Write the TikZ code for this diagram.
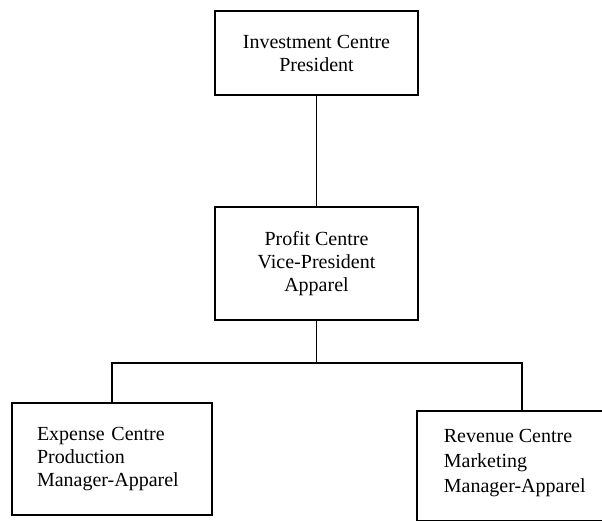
\documentclass[tikz,border=0pt]{standalone}
\usepackage{fontspec}
\setmainfont{Liberation Serif}
\begin{document}
\begin{tikzpicture}[x=1pt,y=-1pt,
  line width=1.8pt,
  unit/.style={draw, rectangle, inner sep=0pt, font=\fontsize{20}{23}\selectfont},
  centred/.style={unit, align=center},
  leftset/.style={unit, align=left, text width=#1}
]
\useasboundingbox (0,0) rectangle (602,521);
\clip (0,0) rectangle (602,521);

% investment centre at the top
\node[centred, minimum width=203pt, minimum height=84pt] (inv) at (316.5,53)
  {Investment Centre\\President};

% profit centre in the middle
\node[centred, minimum width=203pt, minimum height=113pt] (pro) at (316.5,263.5)
  {Profit Centre\\Vice-President\\Apparel};

% expense centre, lower left
\node[leftset=150pt, minimum width=200pt, minimum height=112pt] (exp) at (112,459)
  {Expense Centre\\Production\\Manager-Apparel};

% revenue centre, lower right (runs off the page edge)
\node[unit, minimum width=210pt, minimum height=110pt] (rev) at (522,466) {};
\node[align=left, anchor=west, inner sep=0pt,
      font=\fontsize{20}{25}\selectfont] (revtext) at (443,463)
  {Revenue Centre\\Marketing\\Manager-Apparel};

% connectors
\coordinate (bus) at (pro.south |- 0,363);
\draw (inv.south) -- (pro.north);
\draw (pro.south) -- (bus);
\draw (exp.north) |- (bus) -| (rev.north);
\end{tikzpicture}
\end{document}
